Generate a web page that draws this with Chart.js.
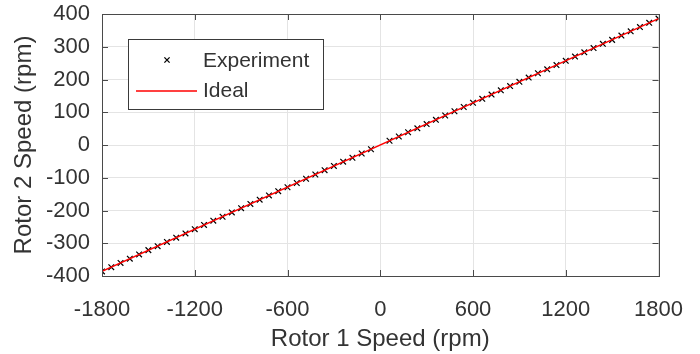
<!DOCTYPE html>
<html>
<head>
<meta charset="utf-8">
<script src="https://cdn.jsdelivr.net/npm/chart.js@4/dist/chart.umd.min.js"></script>
<style>
  html, body { margin: 0; padding: 0; background: #fff; }
  #wrap { width: 700px; height: 354px; }
</style>
</head>
<body>
<div id="wrap"><canvas id="c" width="700" height="354"></canvas></div>
<script>
// Measured rotor speeds (rpm)
const rotor1Speed = [
  -1800, -1740, -1680, -1620, -1560, -1500, -1440, -1380, -1320, -1260,
  -1200, -1140, -1080, -1020, -960, -900, -840, -780, -720, -660,
  -600, -540, -480, -420, -360, -300, -240, -180, -120, -60,
  60, 120, 180, 240, 300, 360, 420, 480, 540, 600,
  660, 720, 780, 840, 900, 960, 1020, 1080, 1140, 1200,
  1260, 1320, 1380, 1440, 1500, 1560, 1620, 1680, 1740, 1800
];
const rotor2Speed = [
  -386, -373, -360, -347, -334, -321, -309, -296, -283, -270,
  -257, -244, -231, -219, -206, -193, -180, -167, -154, -141,
  -129, -116, -103, -90, -77, -64, -51, -39, -26, -13,
  13, 26, 39, 51, 64, 77, 90, 103, 116, 129,
  141, 154, 167, 180, 193, 206, 219, 231, 244, 257,
  270, 283, 296, 309, 321, 334, 347, 360, 373, 386
];

// Ideal speed relation (end points of the straight line)
const idealRotor1 = [-1800, 1800];
const idealRotor2 = [-385.7, 385.7];

const seriesNames = ['Experiment', 'Ideal'];
const xTitle = 'Rotor 1 Speed (rpm)';
const yTitle = 'Rotor 2 Speed (rpm)';

const FONT = '"Liberation Sans", Arial, Helvetica, sans-serif';
const TEXT = '#333333';
const AXIS = '#4a4a4a';
const GRID = '#e4e4e4';

const expPoints = rotor1Speed.map((x, i) => ({ x, y: rotor2Speed[i] }));
const idealPoints = idealRotor1.map((x, i) => ({ x, y: idealRotor2[i] }));

// Plain number labels (no thousands separator)
const plainLabel = v => String(v);

// Box around the plot with inward tick marks on all four sides
const boxTicks = {
  id: 'boxTicks',
  afterDatasetsDraw(chart) {
    const { ctx, chartArea: a, scales: { x, y } } = chart;
    const len = 6;
    ctx.save();
    ctx.strokeStyle = AXIS;
    ctx.lineWidth = 1;
    ctx.beginPath();
    x.ticks.forEach((t, i) => {
      const px = Math.round(x.getPixelForTick(i)) + 0.5;
      ctx.moveTo(px, a.bottom); ctx.lineTo(px, a.bottom - len);
      ctx.moveTo(px, a.top); ctx.lineTo(px, a.top + len);
    });
    y.ticks.forEach((t, i) => {
      const py = Math.round(y.getPixelForTick(i)) + 0.5;
      ctx.moveTo(a.left, py); ctx.lineTo(a.left + len, py);
      ctx.moveTo(a.right, py); ctx.lineTo(a.right - len, py);
    });
    ctx.stroke();
    ctx.strokeRect(Math.round(a.left) + 0.5, Math.round(a.top) + 0.5,
                   Math.round(a.right - a.left), Math.round(a.bottom - a.top));
    ctx.restore();
  }
};

// Boxed legend in the upper-left corner of the plot
const boxLegend = {
  id: 'boxLegend',
  afterDraw(chart) {
    const { ctx } = chart;
    const ds = chart.data.datasets;
    const bx = 128.5, by = 39.5, bw = 195, bh = 70;
    ctx.save();
    ctx.fillStyle = '#ffffff';
    ctx.fillRect(bx, by, bw, bh);
    ctx.strokeStyle = '#3a3a3a';
    ctx.lineWidth = 1;
    ctx.strokeRect(bx, by, bw, bh);

    // marker sample
    const mx = 167, my = 60, r = 2.6;
    ctx.strokeStyle = ds[0].borderColor;
    ctx.lineWidth = 1.3;
    ctx.beginPath();
    ctx.moveTo(mx - r, my - r); ctx.lineTo(mx + r, my + r);
    ctx.moveTo(mx - r, my + r); ctx.lineTo(mx + r, my - r);
    ctx.stroke();

    // line sample
    ctx.strokeStyle = ds[1].borderColor;
    ctx.lineWidth = 1.5;
    ctx.beginPath();
    ctx.moveTo(136, 91); ctx.lineTo(197, 91);
    ctx.stroke();

    ctx.fillStyle = TEXT;
    ctx.font = '21px ' + FONT;
    ctx.textBaseline = 'middle';
    ctx.textAlign = 'left';
    ctx.fillText(ds[0].label, 203, 61);
    ctx.fillText(ds[1].label, 203, 91);
    ctx.restore();
  }
};

new Chart(document.getElementById('c'), {
  type: 'scatter',
  data: {
    datasets: [
      {
        label: seriesNames[0],
        data: expPoints,
        pointStyle: 'crossRot',
        pointRadius: 4,
        pointHoverRadius: 4,
        borderColor: '#000000',
        backgroundColor: '#000000',
        pointBorderWidth: 1.2,
        showLine: false,
        order: 1
      },
      {
        label: seriesNames[1],
        data: idealPoints,
        showLine: true,
        borderColor: '#ff0000',
        borderWidth: 1.5,
        pointRadius: 0,
        pointHoverRadius: 0,
        fill: false,
        order: 0
      }
    ]
  },
  options: {
    responsive: false,
    animation: false,
    events: [],
    layout: { padding: { left: 0, right: 41.5, top: 14, bottom: 0 } },
    plugins: { legend: { display: false }, tooltip: { enabled: false } },
    scales: {
      x: {
        type: 'linear',
        min: -1800, max: 1800,
        afterFit(s) { s.height = 78; s.paddingLeft = 0; s.paddingRight = 0; },
        ticks: {
          stepSize: 600,
          color: TEXT,
          font: { family: FONT, size: 22 },
          padding: 21,
          maxRotation: 0,
          autoSkip: false,
          callback: plainLabel
        },
        grid: { color: GRID, drawTicks: false, lineWidth: 1 },
        border: { display: false },
        title: {
          display: true,
          text: xTitle,
          color: TEXT,
          font: { family: FONT, size: 24 },
          padding: { top: 0, bottom: 0 }
        }
      },
      y: {
        type: 'linear',
        min: -400, max: 400,
        afterFit(s) { s.width = 102; s.paddingTop = 0; s.paddingBottom = 0; },
        ticks: {
          stepSize: 100,
          color: TEXT,
          font: { family: FONT, size: 22 },
          padding: 12,
          autoSkip: false,
          callback: plainLabel
        },
        grid: { color: GRID, drawTicks: false, lineWidth: 1 },
        border: { display: false },
        title: {
          display: true,
          text: yTitle,
          color: TEXT,
          font: { family: FONT, size: 24 },
          padding: { top: 10, bottom: 0 }
        }
      }
    }
  },
  plugins: [boxTicks, boxLegend]
});
</script>
</body>
</html>
